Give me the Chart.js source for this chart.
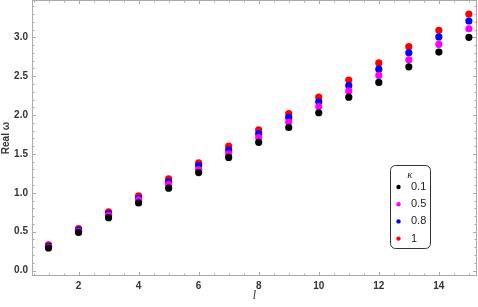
<!DOCTYPE html>
<html>
<head>
<meta charset="utf-8">
<script src="https://cdn.jsdelivr.net/npm/chart.js@4.4.0/dist/chart.umd.min.js"></script>
<style>
  html, body { margin: 0; padding: 0; background: #fff; }
  #wrap { width: 478px; height: 307px; }
</style>
</head>
<body>
<div id="wrap"><canvas id="chart"></canvas></div>
<script>
const lValues = [1, 2, 3, 4, 5, 6, 7, 8, 9, 10, 11, 12, 13, 14, 15];
const kappaLabels = ["0.1", "0.5", "0.8", "1"];
const kappaColors = ["#000000", "#ff00ff", "#0000ff", "#ff0000"];

// Real ω, one list per κ
const omegaK01 = [0.29, 0.49, 0.68, 0.87, 1.06, 1.26, 1.455, 1.65, 1.84, 2.03, 2.23, 2.42, 2.62, 2.81, 3.00];
const omegaK05 = [0.30, 0.505, 0.71, 0.91, 1.11, 1.30, 1.50, 1.71, 1.91, 2.11, 2.31, 2.51, 2.71, 2.91, 3.11];
const omegaK08 = [0.31, 0.52, 0.73, 0.93, 1.14, 1.35, 1.55, 1.76, 1.97, 2.17, 2.38, 2.59, 2.80, 3.005, 3.21];
const omegaK1 = [0.33, 0.54, 0.755, 0.96, 1.18, 1.385, 1.60, 1.81, 2.02, 2.23, 2.45, 2.67, 2.88, 3.09, 3.30];
const seriesValues = [omegaK01, omegaK05, omegaK08, omegaK1];

const xTickLabels = [2, 4, 6, 8, 10, 12, 14];
const yTickLabels = ["0.0", "0.5", "1.0", "1.5", "2.0", "2.5", "3.0"];

const frameColor = "#aaaaaa";
const tickFont = { family: "Liberation Sans", size: 10, weight: "bold" };

// frame with small inward ticks on all four sides
const framePlugin = {
  id: "frame",
  afterDraw(chart) {
    const { ctx, chartArea: a, scales } = chart;
    const xs = scales.x, ys = scales.y;
    ctx.save();
    ctx.strokeStyle = frameColor;
    ctx.lineWidth = 1;
    ctx.strokeRect(a.left + 0.5, a.top + 0.5, a.right - a.left - 1, a.bottom - a.top - 1);
    ctx.beginPath();
    for (let i = Math.ceil(xs.min * 2); i <= xs.max * 2; i++) {
      const v = i / 2;
      const len = (i % 4 === 0) ? 4 : 2.5;
      const px = Math.round(xs.getPixelForValue(v)) + 0.5;
      ctx.moveTo(px, a.bottom); ctx.lineTo(px, a.bottom - len);
      ctx.moveTo(px, a.top); ctx.lineTo(px, a.top + len);
    }
    for (let i = Math.ceil(ys.min * 10); i <= ys.max * 10; i++) {
      const len = (i % 5 === 0) ? 4 : 2.5;
      const py = Math.round(ys.getPixelForValue(i / 10)) + 0.5;
      ctx.moveTo(a.left, py); ctx.lineTo(a.left + len, py);
      ctx.moveTo(a.right, py); ctx.lineTo(a.right - len, py);
    }
    ctx.stroke();

    // legend box
    const bx = 390.5, by = 165.5, bw = 40, bh = 83;
    ctx.strokeStyle = "#333";
    ctx.fillStyle = "#fff";
    ctx.beginPath();
    ctx.roundRect(bx, by, bw, bh, 5);
    ctx.fill();
    ctx.stroke();
    ctx.fillStyle = "#222";
    ctx.font = "italic 11px 'Liberation Serif'";
    ctx.textAlign = "center";
    ctx.textBaseline = "middle";
    ctx.fillText("κ", 410, 175);
    ctx.font = "11px 'Liberation Sans'";
    ctx.textAlign = "left";
    chart.data.datasets.forEach((ds, i) => {
      const ry = 187 + i * 17.2;
      ctx.fillStyle = ds.backgroundColor;
      ctx.beginPath();
      ctx.arc(398.5, ry, 2.2, 0, Math.PI * 2);
      ctx.fill();
      ctx.fillStyle = "#222";
      ctx.fillText(ds.label, 411, ry);
    });
    ctx.restore();
  }
};

const datasets = seriesValues.map((vals, i) => ({
  label: kappaLabels[i],
  data: lValues.map((l, j) => ({ x: l, y: vals[j] })),
  backgroundColor: kappaColors[i],
  borderColor: kappaColors[i],
  pointRadius: 3.6,
  pointBorderWidth: 0,
  showLine: false,
}));

const noPad = (s) => {
  s.paddingTop = 0; s.paddingBottom = 0; s.paddingLeft = 0; s.paddingRight = 0;
};

new Chart(document.getElementById("chart"), {
  type: "scatter",
  data: { datasets },
  options: {
    responsive: true,
    maintainAspectRatio: false,
    animation: false,
    layout: { autoPadding: false, padding: { top: 0, right: 1, left: 0, bottom: 0 } },
    plugins: { legend: { display: false }, tooltip: { enabled: false } },
    scales: {
      x: {
        type: "linear",
        min: 0.45,
        max: 15.27,
        afterFit: (s) => { s.height = 31; noPad(s); },
        grid: { display: false, drawTicks: false, tickLength: 0 },
        border: { display: false },
        ticks: {
          stepSize: 2,
          includeBounds: false,
          padding: 4,
          color: "#333",
          font: tickFont,
          callback: (v) => xTickLabels.includes(v) ? String(v) : "",
        },
        title: {
          display: true,
          text: "l",
          color: "#333",
          font: { family: "Liberation Serif", size: 12, style: "italic" },
          padding: { top: 0, bottom: 4 },
        },
      },
      y: {
        type: "linear",
        min: -0.07,
        max: 3.48,
        afterFit: (s) => { s.width = 32; noPad(s); },
        grid: { display: false, drawTicks: false, tickLength: 0 },
        border: { display: false },
        ticks: {
          stepSize: 0.5,
          includeBounds: false,
          padding: 4,
          color: "#333",
          font: tickFont,
          callback: (v) => {
            const t = v.toFixed(1);
            return yTickLabels.includes(t) ? t : "";
          },
        },
        title: {
          display: true,
          text: "Real ω",
          color: "#333",
          font: { family: "Liberation Sans", size: 10, weight: "bold" },
          padding: { top: 0, bottom: 0 },
        },
      },
    },
  },
  plugins: [framePlugin],
});
</script>
</body>
</html>
